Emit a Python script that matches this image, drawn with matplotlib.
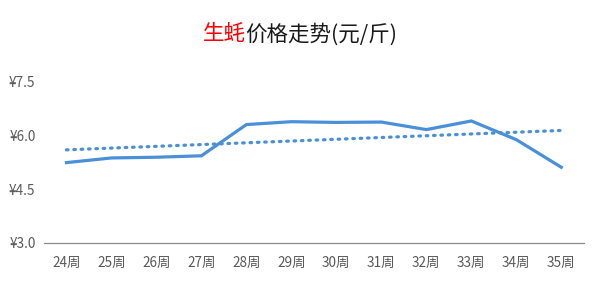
import numpy as np
import matplotlib
matplotlib.use('Agg')
import matplotlib.pyplot as plt

plt.rcParams['font.family'] = ['Noto Sans CJK SC', 'DejaVu Sans']

# 数据
weeks = ['24周', '25周', '26周', '27周', '28周', '29周',
         '30周', '31周', '32周', '33周', '34周', '35周']
prices = [5.24, 5.37, 5.39, 5.43, 6.30, 6.38, 6.36, 6.37, 6.16, 6.40, 5.88, 5.11]
y_ticks = [3.0, 4.5, 6.0, 7.5]

x = np.arange(len(weeks))
# 线性趋势线
k, b = np.polyfit(x, prices, 1)
trend = k * x + b

fig = plt.figure(figsize=(6, 2.82), dpi=100)
ax = fig.add_axes([0.0733, 0.1383, 0.8997, 0.5727])

ax.plot(x, prices, color='#4A90D9', lw=2.3, solid_joinstyle='miter')
ax.plot(x, trend, color='#4A90D9', lw=2.3, linestyle=(0, (0.5, 1.8)),
        dash_capstyle='round')

ax.set_xlim(-0.5, len(weeks) - 0.5)
ax.set_ylim(3.0, 7.5)
ax.set_xticks(x)
ax.set_xticklabels(weeks)
ax.set_yticks(y_ticks)
ax.set_yticklabels(['¥%.1f' % v for v in y_ticks])
ax.tick_params(length=0, labelsize=9.8, colors='#595959')
ax.tick_params(axis='x', pad=9)
ax.tick_params(axis='y', pad=6)
for s in ['top', 'right', 'left']:
    ax.spines[s].set_visible(False)
ax.spines['bottom'].set_color('#8C8C8C')
ax.spines['bottom'].set_linewidth(0.9)

# 标题：生蚝红色
t1 = fig.text(0.5, 0.878, '生蚝', color='#FF0000', fontsize=15.5,
              ha='right', va='center')
t2 = fig.text(0.5, 0.878, '价格走势(元/斤)', color='#1A1A1A', fontsize=15.5,
              ha='left', va='center')
fig.canvas.draw()
w1 = t1.get_window_extent().width / fig.bbox.width
w2 = t2.get_window_extent().width / fig.bbox.width
start = 0.5 - (w1 + w2) / 2
t1.set_x(start + w1)
t2.set_x(start + w1)

fig.savefig('out.png', dpi=100)
